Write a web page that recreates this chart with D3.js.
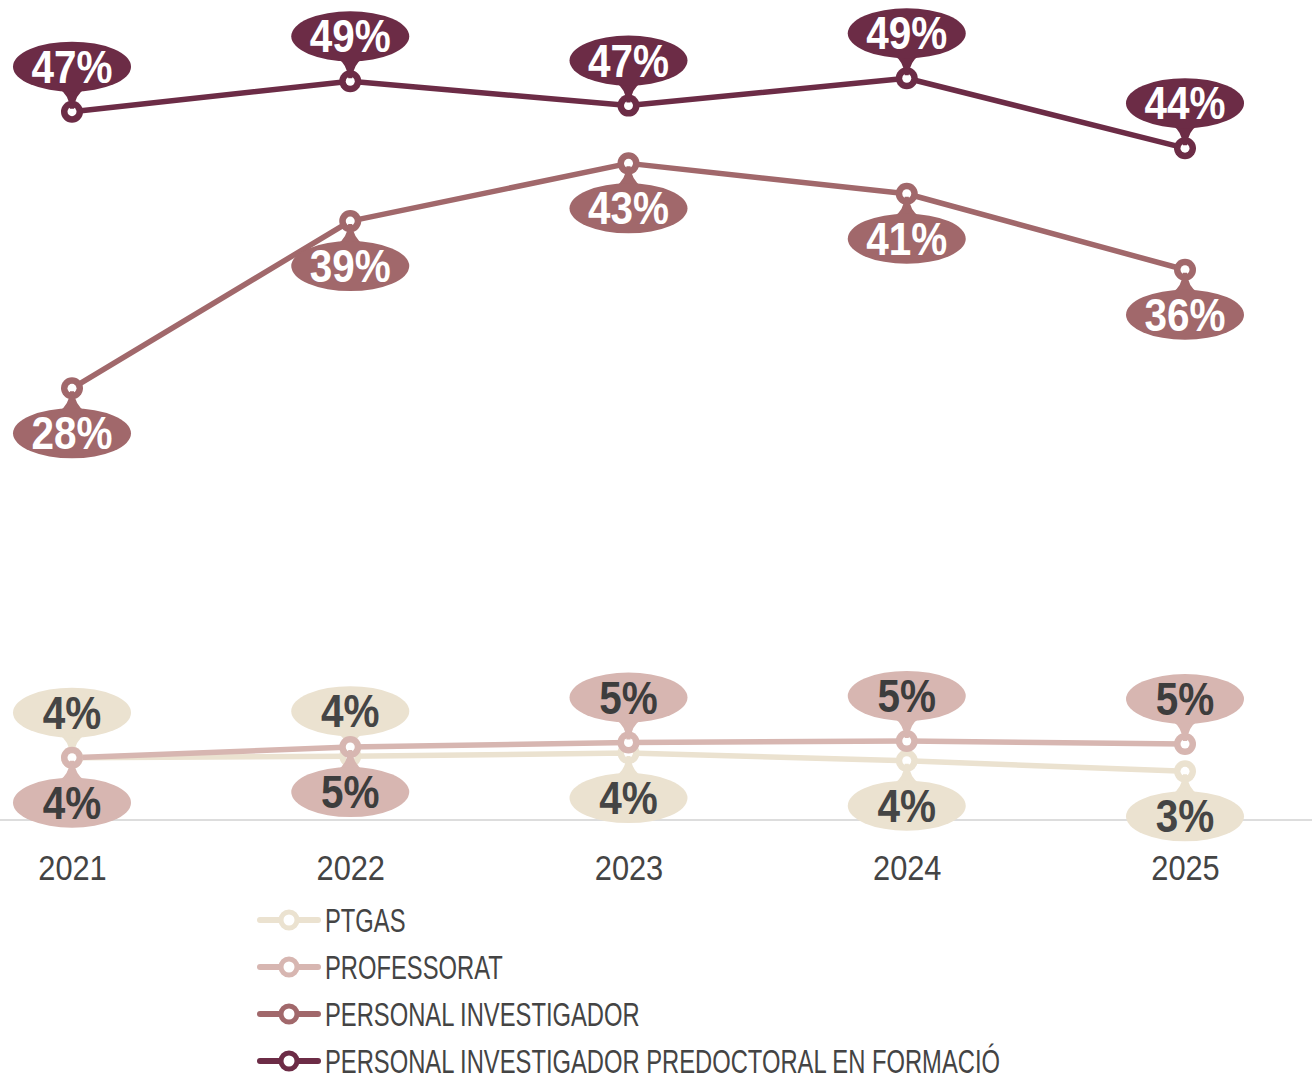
<!DOCTYPE html>
<html>
<head>
<meta charset="utf-8">
<script src="https://cdn.jsdelivr.net/npm/d3@7"></script>
<style>
  html, body { margin: 0; padding: 0; background: #fff; }
  svg { display: block; font-family: "Liberation Sans", Roboto, sans-serif; }
</style>
</head>
<body>
<svg id="chart"></svg>
<script>
const years        = ["2021", "2022", "2023", "2024", "2025"];
const seriesNames  = ["PTGAS", "PROFESSORAT", "PERSONAL INVESTIGADOR", "PERSONAL INVESTIGADOR PREDOCTORAL EN FORMACIÓ"];
const seriesColors = ["#ebe2d0", "#d7b6b1", "#a1686b", "#6c2c46"];
const labelColors  = ["#454545", "#3d3d3d", "#ffffff", "#ffffff"];

const ptgas        = [4.1, 4.2, 4.4, 3.9, 3.2];
const professorat  = [4.1, 4.8, 5.1, 5.2, 5.0];
const investigador = [28.4, 39.4, 43.2, 41.2, 36.2];
const predoctoral  = [46.6, 48.6, 47.0, 48.8, 44.2];

// bubble above (-1) or below (+1) the point, as in the original
const ptgasSide        = [-1, -1, 1, 1, 1];
const professoratSide  = [1, 1, -1, -1, -1];
const investigadorSide = [1, 1, 1, 1, 1];
const predoctoralSide  = [-1, -1, -1, -1, -1];

const values = [ptgas, professorat, investigador, predoctoral];
const sides  = [ptgasSide, professoratSide, investigadorSide, predoctoralSide];

const width  = 1312;
const height = 1075;

const svg = d3.select("#chart")
    .attr("width", width)
    .attr("height", height);

const x = d3.scalePoint()
    .domain(years)
    .range([72, 1185]);

const y = d3.scaleLinear()
    .domain([0, 50])
    .range([820, 60]);

// baseline
svg.append("line")
    .attr("x1", 0).attr("x2", width)
    .attr("y1", y(0)).attr("y2", y(0))
    .attr("stroke", "#dddddd")
    .attr("stroke-width", 2);

// x axis labels (squeezed horizontally to mimic a condensed face)
const xAxis = svg.append("g")
    .attr("transform", `translate(0,${y(0)})`)
    .call(d3.axisBottom(x).tickSize(0).tickPadding(35));
xAxis.select(".domain").remove();
xAxis.selectAll("text")
    .attr("font-size", 35)
    .attr("font-family", null)
    .attr("fill", "#444")
    .attr("transform", "scale(0.88,1)");

const series = seriesNames.map((name, i) => ({
  name,
  color: seriesColors[i],
  textColor: labelColors[i],
  points: years.map((yr, j) => ({ year: yr, value: values[i][j], side: sides[i][j] }))
}));

const line = d3.line()
    .x(d => x(d.year))
    .y(d => y(d.value));

// lines
svg.append("g")
  .selectAll("path")
  .data(series)
  .join("path")
    .attr("fill", "none")
    .attr("stroke", d => d.color)
    .attr("stroke-width", 5.5)
    .attr("stroke-linejoin", "round")
    .attr("d", d => line(d.points));

const rx = 59, ry = 25, off = 45;

series.forEach(s => {
  const g = svg.append("g");
  const pts = s.points;

  // marker
  g.selectAll("circle.outer")
    .data(pts)
    .join("circle")
      .attr("class", "outer")
      .attr("cx", d => x(d.year))
      .attr("cy", d => y(d.value))
      .attr("r", 11)
      .attr("fill", s.color);
  g.selectAll("circle.hole")
    .data(pts)
    .join("circle")
      .attr("class", "hole")
      .attr("cx", d => x(d.year))
      .attr("cy", d => y(d.value))
      .attr("r", 4.5)
      .attr("fill", "#fff");

  // stem connecting bubble to marker
  g.selectAll("path.stem")
    .data(pts)
    .join("path")
      .attr("class", "stem")
      .attr("fill", s.color)
      .attr("d", d => {
        const px = x(d.year), py = y(d.value), sd = d.side;
        const base = py + sd * (off - ry + 3);
        const tip = py + sd * 3;
        return `M${px - 13},${base} Q${px - 3},${base - sd * 6} ${px - 2},${tip} L${px + 2},${tip} Q${px + 3},${base - sd * 6} ${px + 13},${base} Z`;
      });

  // bubble
  g.selectAll("ellipse")
    .data(pts)
    .join("ellipse")
      .attr("cx", d => x(d.year))
      .attr("cy", d => y(d.value) + d.side * off)
      .attr("rx", rx)
      .attr("ry", ry)
      .attr("fill", s.color);

  g.selectAll("text")
    .data(pts)
    .join("text")
      .attr("transform", d => `translate(${x(d.year)},${y(d.value) + d.side * off}) scale(0.88,1)`)
      .attr("dy", "0.35em")
      .attr("text-anchor", "middle")
      .attr("font-size", 46)
      .attr("font-weight", "bold")
      .attr("fill", s.textColor)
      .text(d => Math.round(d.value) + "%");
});

// legend
const legend = svg.append("g")
    .attr("transform", "translate(258,920)");

const item = legend.selectAll("g")
  .data(series)
  .join("g")
    .attr("transform", (d, i) => `translate(0,${i * 47})`);

item.append("line")
    .attr("x1", 2).attr("x2", 60)
    .attr("stroke", d => d.color)
    .attr("stroke-width", 6)
    .attr("stroke-linecap", "round");
item.append("circle")
    .attr("cx", 31)
    .attr("r", 8)
    .attr("fill", "#fff")
    .attr("stroke", d => d.color)
    .attr("stroke-width", 5);
item.append("text")
    .attr("transform", "translate(67,0) scale(0.72,1)")
    .attr("dy", "0.36em")
    .attr("font-size", 33)
    .attr("fill", "#444")
    .text(d => d.name);
</script>
</body>
</html>
